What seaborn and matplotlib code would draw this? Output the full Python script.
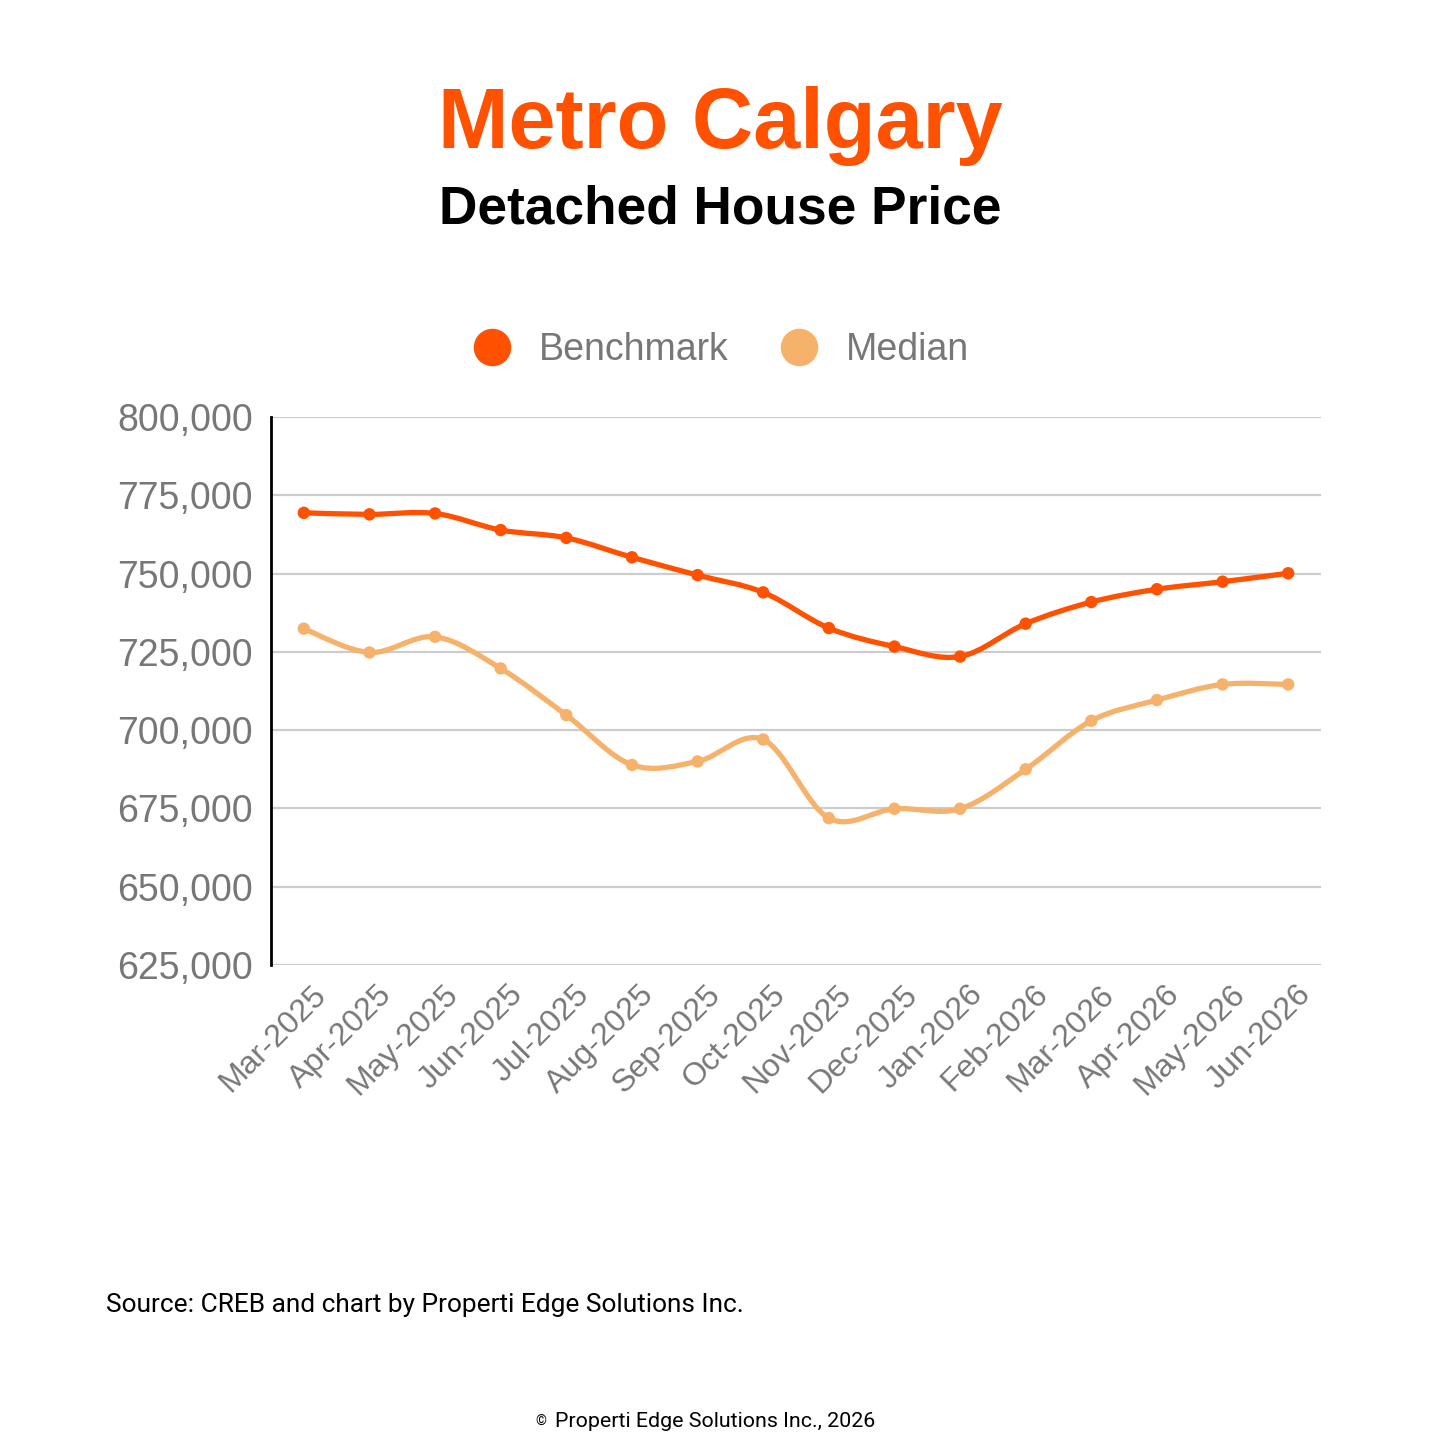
import matplotlib
matplotlib.use("Agg")
import matplotlib.pyplot as plt
from matplotlib.path import Path
from matplotlib.patches import PathPatch
from matplotlib.lines import Line2D
import matplotlib.transforms as mtransforms
import seaborn as sns
import pandas as pd
import numpy as np

months = ["Mar-2025", "Apr-2025", "May-2025", "Jun-2025", "Jul-2025", "Aug-2025",
          "Sep-2025", "Oct-2025", "Nov-2025", "Dec-2025", "Jan-2026", "Feb-2026",
          "Mar-2026", "Apr-2026", "May-2026", "Jun-2026"]
benchmark = [769400, 768900, 769200, 763900, 761400, 755200, 749500, 744000,
             732600, 726700, 723500, 734000, 740900, 745000, 747400, 750100]
median = [732400, 724800, 729800, 719700, 704800, 688900, 690000, 697000,
          671900, 674900, 674900, 687500, 703000, 709600, 714600, 714600]
series_names = ["Benchmark", "Median"]
y_ticks = [625000, 650000, 675000, 700000, 725000, 750000, 775000, 800000]

colors = {"Benchmark": "#FF5100", "Median": "#F6B26B"}

sns.set_theme(style="white")
plt.rcParams["font.family"] = ["Liberation Sans", "DejaVu Sans"]

df = pd.DataFrame({
    "month": months * 2,
    "x": list(range(len(months))) * 2,
    "value": benchmark + median,
    "series": ["Benchmark"] * len(months) + ["Median"] * len(months),
})

fig = plt.figure(figsize=(14.4, 14.4), dpi=100)
ax = fig.add_axes([271 / 1440, 1 - 965 / 1440, 1050 / 1440, 548 / 1440])


def smooth_path(xs, ys):
    pts = np.column_stack([xs, ys]).astype(float)
    n = len(pts)
    verts = [pts[0]]
    codes = [Path.MOVETO]
    for i in range(n - 1):
        p0 = pts[i - 1] if i > 0 else pts[i]
        p1 = pts[i]
        p2 = pts[i + 1]
        p3 = pts[i + 2] if i + 2 < n else pts[i + 1]
        c1 = p1 + (p2 - p0) / 6.0
        c2 = p2 - (p3 - p1) / 6.0
        verts += [c1, c2, p2]
        codes += [Path.CURVE4] * 3
    return Path(verts, codes)


for name in series_names:
    sub = df[df["series"] == name]
    patch = PathPatch(smooth_path(sub["x"].values, sub["value"].values),
                      facecolor="none", edgecolor=colors[name], lw=3.8,
                      capstyle="round", joinstyle="round", zorder=3)
    ax.add_patch(patch)

sns.scatterplot(data=df, x="x", y="value", hue="series", palette=colors,
                s=80, edgecolor="none", legend=False, ax=ax, zorder=4)

ax.set_xlim(-0.5, len(months) - 0.5)
ax.set_ylim(625000, 800000)
ax.set_yticks(y_ticks)
ax.set_yticklabels([f"{v:,}" for v in y_ticks])
ax.set_xticks(range(len(months)))
ax.set_xticklabels(months)
ax.set_xlabel("")
ax.set_ylabel("")

for y in y_ticks:
    ax.axhline(y, color="#cccccc", lw=1.6, zorder=1)

for s in ["top", "right", "bottom"]:
    ax.spines[s].set_visible(False)
ax.spines["left"].set_color("black")
ax.spines["left"].set_linewidth(2.0)
ax.spines["left"].set_zorder(5)

ax.tick_params(axis="y", length=0, pad=13, labelsize=27, labelcolor="#777777")
ax.tick_params(axis="x", length=0, pad=18, labelsize=23, labelcolor="#777777")

offset = mtransforms.ScaledTranslation(18 / 100, 0, fig.dpi_scale_trans)
for lab in ax.get_xticklabels():
    lab.set_rotation(45)
    lab.set_ha("right")
    lab.set_va("center")
    lab.set_rotation_mode("anchor")
    lab.set_transform(lab.get_transform() + offset)

handles = [Line2D([], [], marker="o", linestyle="none", markersize=27,
                  markerfacecolor=colors[n], markeredgecolor="none") for n in series_names]
leg = fig.legend(handles, series_names, loc="center",
                 bbox_to_anchor=(0.5 - 8 / 1440, 1 - 350 / 1440),
                 ncol=2, frameon=False, fontsize=27, handletextpad=0.25,
                 columnspacing=0.87, labelcolor="#777777")

fig.text(0.5, 1 - 148 / 1440, "Metro Calgary", ha="center", va="baseline",
         fontsize=61, fontweight="bold", color="#FF5100", family="Liberation Sans")
fig.text(0.5, 1 - 223 / 1440, "Detached House Price", ha="center", va="baseline",
         fontsize=38.3, fontweight="bold", color="black", family="Liberation Sans")
fig.text(106 / 1440, 1 - 1312 / 1440, "Source: CREB and chart by Properti Edge Solutions Inc.",
         ha="left", va="baseline", fontsize=18.9, color="black", family="Roboto")
fig.text(555 / 1440, 1 - 1427 / 1440, "Properti Edge Solutions Inc., 2026",
         ha="left", va="baseline", fontsize=15.4, color="black", family="Roboto")
fig.text(541 / 1440, 1 - 1426 / 1440, "©", ha="center", va="baseline",
         fontsize=10, color="black", family="Roboto")

fig.savefig("out.png", dpi=100, facecolor="white")
